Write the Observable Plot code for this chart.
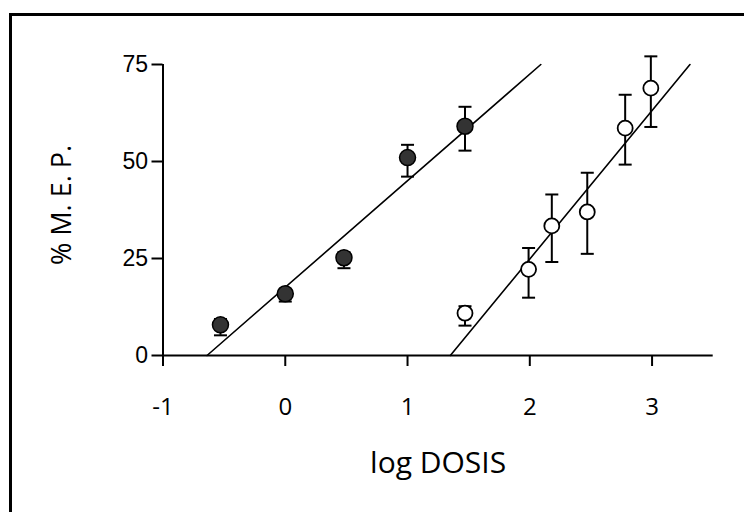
<!DOCTYPE html>
<html><head><meta charset="utf-8">
<script src="https://cdn.jsdelivr.net/npm/d3@7"></script>
<script src="https://cdn.jsdelivr.net/npm/@observablehq/plot@0.6"></script>
<style>
html,body{margin:0;padding:0;background:#fff;overflow:hidden}
#wrap{position:relative;width:744px;height:512px}
#wrap svg{position:absolute;left:0;top:0}
#frame{position:absolute;left:9px;top:13px;width:800px;height:600px;border-left:3px solid #000;border-top:3px solid #000;pointer-events:none}
</style></head><body><div id="wrap"><div id="frame"></div></div>
<script>
const xDomain = [-1, 3.5];
const yDomain = [0, 75];
const xTicks = [-1, 0, 1, 2, 3];
const yTicks = [0, 25, 50, 75];
const xLabel = "log DOSIS";
const yLabel = "% M. E. P.";

// filled circles series
const filledX  = [-0.53, 0.0, 0.48, 1.0, 1.47];
const filledY  = [7.9, 15.9, 25.2, 51.0, 59.1];
const filledHi = [9.4, 16.9, 26.6, 54.3, 64.1];
const filledLo = [5.2, 13.9, 22.5, 46.1, 52.8];

// open circles series
const openX  = [1.47, 1.99, 2.18, 2.47, 2.78, 2.99];
const openY  = [10.9, 22.2, 33.4, 37.0, 58.6, 68.9];
const openHi = [12.7, 27.7, 41.5, 47.1, 67.2, 77.1];
const openLo = [7.7, 14.9, 24.1, 26.2, 49.2, 58.9];

// regression lines (endpoints)
const fitFilledX = [-0.64, 2.09];
const fitFilledY = [0, 75];
const fitOpenX = [1.35, 3.31];
const fitOpenY = [0, 75];

const filled = filledX.map((x, i) => ({x, y: filledY[i], hi: filledHi[i], lo: filledLo[i]}));
const open = openX.map((x, i) => ({x, y: openY[i], hi: openHi[i], lo: openLo[i]}));
const fitA = fitFilledX.map((x, i) => ({x, y: fitFilledY[i]}));
const fitB = fitOpenX.map((x, i) => ({x, y: fitOpenY[i]}));
const allPts = filled.concat(open);

const cap = {draw(ctx) { ctx.moveTo(-6.5, 0); ctx.lineTo(6.5, 0); }};
const comic = "'Comic Sans MS', 'Open Sans', sans-serif";
const arial = "'Liberation Sans', Arial, sans-serif";

const chart = Plot.plot({
  width: 744, height: 512,
  marginLeft: 162.5, marginRight: 31.3, marginTop: 64, marginBottom: 157,
  x: {domain: xDomain},
  y: {domain: yDomain},
  marks: [
    Plot.ruleY([yDomain[0]], {x1: xDomain[0], x2: xDomain[1], stroke: "#000", strokeWidth: 2}),
    Plot.ruleX([xDomain[0]], {y1: yDomain[0], y2: yDomain[1], stroke: "#000", strokeWidth: 2}),
    Plot.axisX({ticks: xTicks, tickSize: 11, tickPadding: 31, strokeWidth: 2, fontSize: 24, fontFamily: comic, label: null, tickFormat: d => d < 0 ? "-" + Math.abs(d) : String(d), fill: "#000"}),
    Plot.axisY({ticks: yTicks, tickSize: 11, tickPadding: 4, strokeWidth: 2, fontSize: 23, fontFamily: arial, label: null, fill: "#000"}),
    Plot.text([xLabel], {frameAnchor: "bottom", textAnchor: "middle", dy: 117, fontSize: 30, fontFamily: comic, fill: "#000"}),
    Plot.text([yLabel], {frameAnchor: "left", textAnchor: "middle", lineAnchor: "middle", rotate: -90, dx: -100.5, dy: -5, fontSize: 27, fontFamily: comic, fill: "#000"}),
    Plot.line(fitA, {x: "x", y: "y", stroke: "#000", strokeWidth: 1.6}),
    Plot.line(fitB, {x: "x", y: "y", stroke: "#000", strokeWidth: 1.6}),
    Plot.ruleX(allPts, {x: "x", y1: "lo", y2: "hi", stroke: "#000", strokeWidth: 2}),
    Plot.dot(allPts, {x: "x", y: "hi", symbol: cap, r: 5, fill: "none", stroke: "#000", strokeWidth: 2}),
    Plot.dot(allPts, {x: "x", y: "lo", symbol: cap, r: 5, fill: "none", stroke: "#000", strokeWidth: 2}),
    Plot.dot(filled, {x: "x", y: "y", r: 8, fill: "#333", stroke: "#000", strokeWidth: 1.5}),
    Plot.dot(open, {x: "x", y: "y", r: 7.5, fill: "#fff", stroke: "#000", strokeWidth: 1.8})
  ]
});
document.getElementById("wrap").insertBefore(chart, document.getElementById("frame"));
</script></body></html>
